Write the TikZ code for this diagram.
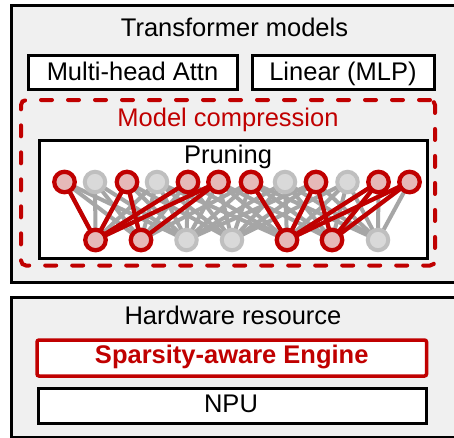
\documentclass[tikz,border=0pt]{standalone}
\usepackage{fontspec}
\setmainfont{Liberation Sans}
\definecolor{panel}{HTML}{F0F0F0}
\definecolor{accent}{HTML}{C00000}
\definecolor{nodepink}{HTML}{E6B9B8}
\definecolor{edgegray}{HTML}{A6A6A6}
\definecolor{nodegray}{HTML}{D9D9D9}
\definecolor{ringgray}{HTML}{BFBFBF}
\pgfdeclarelayer{back}
\pgfdeclarelayer{wires}
\pgfsetlayers{back,wires,main}
\tikzset{
  panelbox/.style={draw=black, line width=3pt, fill=panel, inner sep=0pt},
  whitebox/.style={draw=black, line width=3pt, fill=white, inner sep=0pt},
  enginebox/.style={draw=accent, line width=3.5pt, fill=white, rounded corners=2pt, inner sep=0pt},
  groupbox/.style={draw=accent, line width=4pt, dash pattern=on 11pt off 16pt, line cap=round, rounded corners=5pt, inner sep=0pt},
  label/.style={anchor=base, inner sep=0pt, font=\fontsize{25.5}{30}\selectfont},
  onneuron/.style={circle, draw=accent, line width=4.3pt, fill=nodepink, minimum size=20.5pt, inner sep=0pt, outer sep=0pt},
  offneuron/.style={circle, draw=ringgray, line width=4pt, fill=nodegray, minimum size=20.5pt, inner sep=0pt, outer sep=0pt},
  keptwire/.style={draw=accent, line width=4.3pt},
  cutwire/.style={draw=edgegray, line width=4pt},
}
\begin{document}
\begin{tikzpicture}[x=1pt,y=-1pt]
\useasboundingbox (0,0) rectangle (454,437);
\clip (0,0) rectangle (454,437);

% panels and frames sit underneath the wiring
\begin{pgfonlayer}{back}
  \node[panelbox, minimum width=460pt, minimum height=277pt] (model) at (241,144) {};
  \node[panelbox, minimum width=460pt, minimum height=140pt] (hw) at (241,367) {};
  \node[groupbox, minimum width=414pt, minimum height=165.5pt] (compress) at (228,182.75) {};
  \node[whitebox, minimum width=388pt, minimum height=118pt] (prune) at (233,199) {};
\end{pgfonlayer}

% transformer part
\node[label] (modeltxt) at (234.5,36) {Transformer models};
\node[whitebox, minimum width=209pt, minimum height=34pt] (mha) at (132.5,72) {};
\node[label] (mhatxt) at (132.5,80) {Multi-head Attn};
\node[whitebox, minimum width=182pt, minimum height=34pt] (mlp) at (343,72) {};
\node[label] (mlptxt) at (343,80) {Linear (MLP)};

\node[label, text=accent] (compresstxt) at (228,126) {Model compression};
\node[label] (prunetxt) at (228,163) {Pruning};

% neurons: top layer
\foreach \i/\x/\s in {1/64.5/onneuron, 2/95/offneuron, 3/127/onneuron, 4/157/offneuron,
                      5/188/onneuron, 6/218.5/onneuron, 7/251/onneuron, 8/285/offneuron,
                      9/316/onneuron, 10/347.5/offneuron, 11/378.5/onneuron, 12/409.5/onneuron}
  \node[\s] (t\i) at (\x,182) {};
% neurons: bottom layer
\foreach \j/\x/\s in {1/95.5/onneuron, 2/141/onneuron, 3/186.5/offneuron, 4/232/offneuron,
                      5/287/onneuron, 6/332/onneuron, 7/378/offneuron}
  \node[\s] (b\j) at (\x,240) {};

\begin{pgfonlayer}{wires}
  % pruned connections between nearby neurons
  \foreach \i/\xi in {1/64.5, 2/95, 3/127, 4/157, 5/188, 6/218.5, 7/251, 8/285,
                      9/316, 10/347.5, 11/378.5, 12/409.5}
    \foreach \j/\xj in {1/95.5, 2/141, 3/186.5, 4/232, 5/287, 6/332, 7/378} {
      \pgfmathtruncatemacro\near{abs(\xi-\xj)<=130}
      \ifnum\near=1 \draw[cutwire] (t\i) -- (b\j); \fi
    }
  % kept connections
  \foreach \i/\j in {1/1, 3/1, 3/2, 5/1, 6/1, 6/2, 7/5, 9/5, 9/6, 11/5, 11/6, 12/5, 12/6}
    \draw[keptwire] (t\i) -- (b\j);
\end{pgfonlayer}

% hardware part
\node[label] (hwtxt) at (233,324) {Hardware resource};
\node[enginebox, minimum width=389.5pt, minimum height=36pt] (engine) at (231.75,358) {};
\node[label, text=accent, font=\fontsize{25.5}{30}\selectfont\bfseries] (enginetxt) at (231.75,363) {Sparsity-aware Engine};
\node[whitebox, minimum width=388pt, minimum height=35pt] (npu) at (232,405.5) {};
\node[label] (nputxt) at (231,412) {NPU};
\end{tikzpicture}
\end{document}
